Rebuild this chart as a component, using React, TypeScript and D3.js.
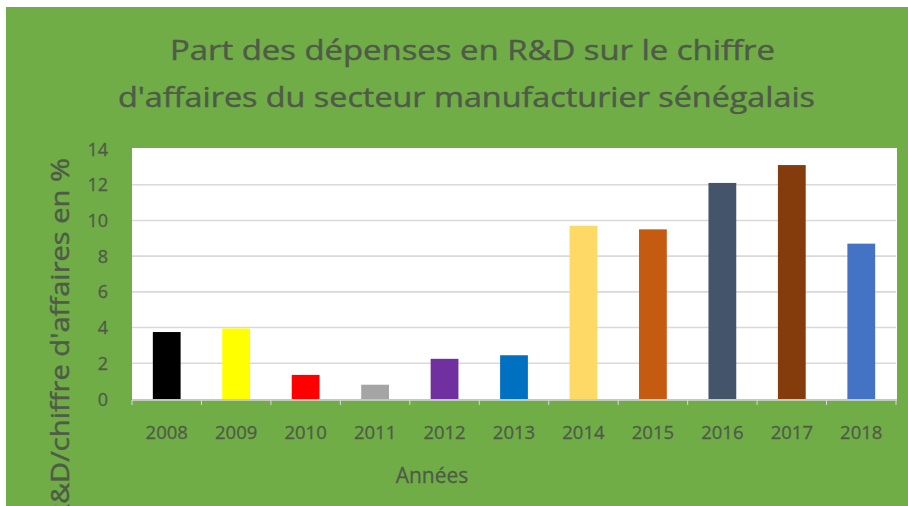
import React from "react";
import * as d3 from "d3";

const years = ["2008","2009","2010","2011","2012","2013","2014","2015","2016","2017","2018"];
const values = [3.75, 3.95, 1.35, 0.8, 2.25, 2.45, 9.7, 9.5, 12.1, 13.1, 8.7];
const barColors = ["#000000","#FFFF00","#FF0000","#A5A5A5","#7030A0","#0070C0","#FFD966","#C55A11","#44546A","#843C0C","#4472C4"];
const yTicks = [0, 2, 4, 6, 8, 10, 12, 14];
const titleLines = ["Part des dépenses en R&D sur le chiffre", "d'affaires du secteur manufacturier sénégalais"];
const xTitle = "Années";
const yTitle = "R&D/chiffre d'affaires en %";

const W = 908, H = 506;
const FONT = "'Open Sans', 'Noto Sans', sans-serif";
const TXT = "#4F5B47";

export default function App() {
  const plotL = 132, plotR = 896, plotT = 149, plotB = 399;
  const x = d3.scaleBand<string>().domain(years).range([plotL, plotR]).paddingInner(0.6).paddingOuter(0.3);
  const y = d3.scaleLinear().domain([0, 14]).range([plotB, plotT]);
  const boundaries = d3.range(years.length + 1).map(i => plotL + i * (plotR - plotL) / years.length);
  const bold = { stroke: TXT, strokeWidth: 0.45 };

  return (
    <svg width={W} height={H} style={{ position: "fixed", left: 0, top: 0, display: "block" }}>
      <rect x={0} y={0} width={W} height={H} fill="#ffffff" />
      <rect x={6} y={7} width={W - 6} height={H - 7} fill="#70AD47" />
      <rect x={plotL} y={plotT - 1} width={plotR - plotL + 1} height={plotB - plotT + 1} fill="#ffffff" />
      {yTicks.filter(t => t > 0 && t < 14).map(t => (
        <line key={t} x1={plotL} x2={plotR} y1={y(t)} y2={y(t)} stroke="#D9D9D9" strokeWidth={1.6} />
      ))}
      {years.map((yr, i) => (
        <rect key={yr} x={x(yr)} y={y(values[i])} width={x.bandwidth()} height={y(0) - y(values[i])} fill={barColors[i]} />
      ))}
      <line x1={plotL} x2={plotR + 1} y1={plotB + 1} y2={plotB + 1} stroke="#D9D9D9" strokeWidth={1.5} />
      {boundaries.map((b, i) => (
        <line key={i} x1={b} x2={b} y1={plotB + 1} y2={plotB + 6} stroke="#D9D9D9" strokeWidth={1} />
      ))}
      {years.map(yr => (
        <text key={yr} x={(x(yr) as number) + x.bandwidth() / 2} y={439} textAnchor="middle"
          fontFamily={FONT} fontSize={18.5} fill={TXT} {...bold} strokeWidth={0.3}>{yr}</text>
      ))}
      {yTicks.map(t => (
        <text key={t} x={108} y={y(t) + 6.5} textAnchor="end" fontFamily={FONT} fontSize={18} fill={TXT} {...bold} strokeWidth={0.3}>{t}</text>
      ))}
      <text x={170} y={60} textLength={605} lengthAdjust="spacingAndGlyphs" fontFamily={FONT} fontSize={27} fill={TXT} {...bold}>{titleLines[0]}</text>
      <text x={118} y={107} textLength={697} lengthAdjust="spacingAndGlyphs" fontFamily={FONT} fontSize={27} fill={TXT} {...bold}>{titleLines[1]}</text>
      <text x={432} y={483} textAnchor="middle" fontFamily={FONT} fontSize={21} fill={TXT} {...bold} strokeWidth={0.3}>{xTitle}</text>
      <text transform="translate(69,158) rotate(-90)" x={0} y={0} textAnchor="end" textLength={364} lengthAdjust="spacingAndGlyphs"
        fontFamily={FONT} fontSize={25} fill={TXT} {...bold}>{yTitle}</text>
    </svg>
  );
}
